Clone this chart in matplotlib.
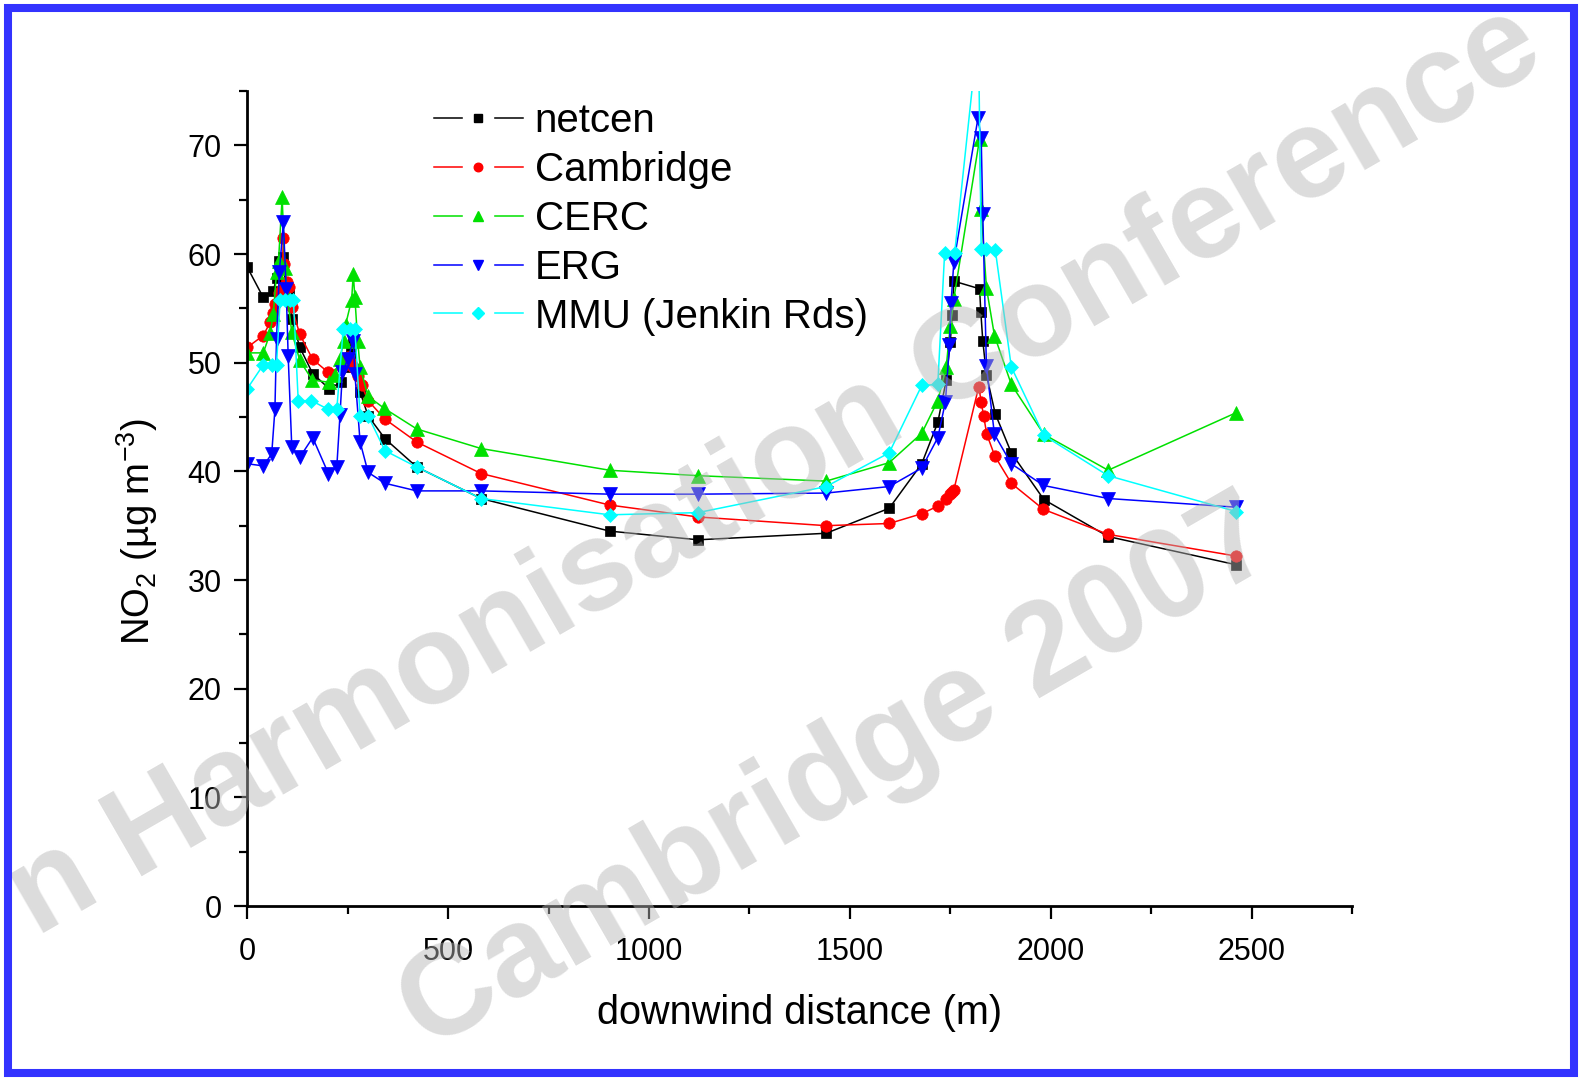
import numpy as np
import matplotlib.pyplot as plt
from matplotlib.lines import Line2D
from matplotlib.patches import Rectangle
from matplotlib.legend_handler import HandlerTuple
from matplotlib.ticker import MultipleLocator

plt.rcParams['font.family'] = ['Liberation Sans', 'DejaVu Sans']
plt.rcParams['mathtext.default'] = 'regular'

# values (downwind distance in m, NO2 in ug/m3)
netcen_x = [0, 40, 65, 73, 80, 88, 97, 104, 111, 131, 163, 204, 233, 250, 258, 264, 281, 301, 343, 422,
            582, 902, 1122, 1441, 1598, 1679, 1719, 1740, 1750, 1755, 1759, 1823, 1826, 1831, 1840, 1862,
            1902, 1983, 2143, 2462]
netcen_y = [58.8, 56.0, 56.6, 57.8, 59.4, 59.7, 56.8, 56.3, 54.0, 51.4, 49.0, 47.6, 48.2, 49.6, 51.3, 52.3, 47.3, 45.1, 43.0, 40.4,
            37.5, 34.5, 33.7, 34.3, 36.6, 40.7, 44.5, 48.4, 51.9, 54.4, 57.5, 56.8, 54.7, 52.0, 48.9, 45.3,
            41.7, 37.4, 34.0, 31.4]

cam_x = [0, 40, 57, 65, 69, 78, 86, 90, 92, 98, 104, 111, 131, 163, 202, 235, 243, 252, 258, 264, 276, 285, 301, 343, 422,
         582, 902, 1122, 1441, 1598, 1679, 1719, 1740, 1750, 1755, 1759, 1821, 1827, 1833, 1841, 1861,
         1902, 1982, 2143, 2462]
cam_y = [51.4, 52.5, 53.7, 54.6, 55.4, 56.4, 56.8, 61.5, 59.1, 57.4, 57.0, 55.1, 52.6, 50.3, 49.1, 49.6, 50.2, 50.5, 50.0, 49.6, 48.8, 47.9, 46.5, 44.8, 42.7,
         39.8, 36.9, 35.8, 35.0, 35.2, 36.1, 36.8, 37.5, 37.9, 38.1, 38.3, 47.8, 46.4, 45.1, 43.4, 41.4,
         38.9, 36.5, 34.2, 32.2]

cerc_x = [0, 40, 57, 65, 73, 78, 87, 94, 100, 111, 131, 162, 203, 218, 231, 240, 245, 260, 264, 268, 275, 281, 301, 341, 422,
          582, 902, 1122, 1441, 1598, 1679, 1719, 1740, 1750, 1759, 1823, 1827, 1840, 1860,
          1902, 1983, 2143, 2462]
cerc_y = [50.9, 50.9, 52.7, 54.5, 58.3, 59.4, 65.2, 58.7, 56.0, 52.8, 50.2, 48.4, 48.2, 48.9, 50.3, 52.0, 53.5, 55.8, 58.2, 56.0, 52.0, 49.6, 46.9, 45.8, 43.9,
          42.1, 40.1, 39.6, 39.1, 40.8, 43.5, 46.5, 49.6, 53.4, 55.9, 70.6, 64.1, 56.9, 52.5,
          48.0, 43.4, 40.1, 45.4]

erg_x = [0, 40, 61, 69, 73, 80, 90, 97, 102, 111, 131, 163, 202, 223, 231, 237, 250, 264, 268, 281, 301, 343, 422,
         582, 902, 1122, 1441, 1598, 1679, 1719, 1738, 1748, 1752, 1759, 1819, 1827, 1831, 1840, 1860,
         1902, 1982, 2143, 2462]
erg_y = [40.7, 40.5, 41.6, 45.7, 52.2, 58.3, 62.9, 56.8, 50.6, 42.2, 41.3, 43.1, 39.8, 40.4, 45.2, 49.1, 50.3, 52.0, 49.0, 42.7, 39.9, 38.9, 38.2,
         38.2, 37.9, 37.9, 38.0, 38.6, 40.3, 43.1, 46.4, 51.6, 55.5, 59.3, 72.5, 70.7, 63.7, 49.7, 43.4,
         40.7, 38.7, 37.5, 36.7]

mmu_x = [0, 40, 61, 73, 82, 94, 106, 115, 127, 160, 202, 223, 239, 255, 268, 281, 301, 343, 422,
         582, 902, 1122, 1441, 1598, 1679, 1719, 1736, 1761, 1820, 1827, 1840, 1862,
         1902, 1983, 2143, 2462]
mmu_y = [47.6, 49.8, 49.8, 49.8, 55.8, 55.8, 55.8, 55.8, 46.5, 46.5, 45.7, 45.7, 53.1, 53.1, 53.1, 45.1, 45.1, 41.9, 40.4,
         37.5, 36.0, 36.2, 38.6, 41.7, 47.9, 48.0, 60.1, 60.1, 80.6, 60.5, 60.5, 60.4,
         49.6, 43.3, 39.6, 36.3]

labels = ['netcen', 'Cambridge', 'CERC', 'ERG', 'MMU (Jenkin Rds)']
colors = ['#000000', '#FF0000', '#00E000', '#0000FF', '#00FFFF']
markers = ['s', 'o', '^', 'v', 'D']
msizes = [7.8, 8.2, 9.5, 9.5, 7.6]
xs = [netcen_x, cam_x, cerc_x, erg_x, mmu_x]
ys = [netcen_y, cam_y, cerc_y, erg_y, mmu_y]

W, H = 1582, 1081
fig = plt.figure(figsize=(W / 100, H / 100), dpi=100)
ax = fig.add_axes([247.2 / W, 175 / H, 1104.8 / W, 815 / H])

handles = []
for x, y, c, m, ms in zip(xs, ys, colors, markers, msizes):
    ax.plot(x, y, color=c, lw=1.1, marker=m, ms=ms, mfc=c, mec=c, mew=0.5)
    # legend handle: line, white gap, small marker (Origin style)
    seg = Line2D([], [], color=c, lw=1.1)
    gap = Line2D([], [], ls='none', marker='s', ms=22, mfc='white', mec='white')
    mk = Line2D([], [], ls='none', marker=m, ms=ms * 0.75, mfc=c, mec=c)
    handles.append((seg, gap, mk))

ax.set_xlim(0, 2750)
ax.set_ylim(0, 75)
ax.xaxis.set_major_locator(MultipleLocator(500))
ax.xaxis.set_minor_locator(MultipleLocator(250))
ax.yaxis.set_major_locator(MultipleLocator(10))
ax.yaxis.set_minor_locator(MultipleLocator(5))
ax.set_xticks(np.arange(0, 2501, 500))
for s in ['top', 'right']:
    ax.spines[s].set_visible(False)
for s in ['left', 'bottom']:
    ax.spines[s].set_linewidth(2.0)
ax.tick_params(which='major', direction='out', length=9.5, width=1.6, labelsize=22)
ax.tick_params(which='minor', direction='out', length=6, width=1.6)
ax.tick_params(axis='x', which='major', pad=13)
ax.tick_params(axis='y', which='major', pad=9)

ax.set_xlabel('downwind distance (m)', fontsize=28.5, labelpad=19)
ax.set_ylabel('NO$_2$ (µg m$^{-3}$)', fontsize=27.5)
ax.yaxis.set_label_coords(-0.079, 0.459)

fig.legend(handles, labels, loc='upper left', bbox_to_anchor=(434 / W, 1 - 102 / H),
           frameon=False, borderpad=0, borderaxespad=0, handlelength=2.2,
           handletextpad=0.3, labelspacing=0.27, fontsize=29,
           handler_map={tuple: HandlerTuple(ndivide=1, pad=0)})

# watermark
wm = dict(fontsize=92, fontweight='bold', color=(0.71, 0.71, 0.71), alpha=0.47,
          rotation=30, rotation_mode='anchor', ha='center', va='center', zorder=20)
fig.text(776 / W, 1 - 472 / H, 'n Harmonisation Conference', **wm)
fig.text(838 / W, 1 - 776 / H, 'Cambridge 2007', **wm)

# blue frame
fig.patches.append(Rectangle((8 / W, 8 / H), (W - 16) / W, (H - 16) / H, transform=fig.transFigure,
                             fill=False, ec='#3333FF', lw=5.8, zorder=30))

fig.savefig('out.png', dpi=100)
